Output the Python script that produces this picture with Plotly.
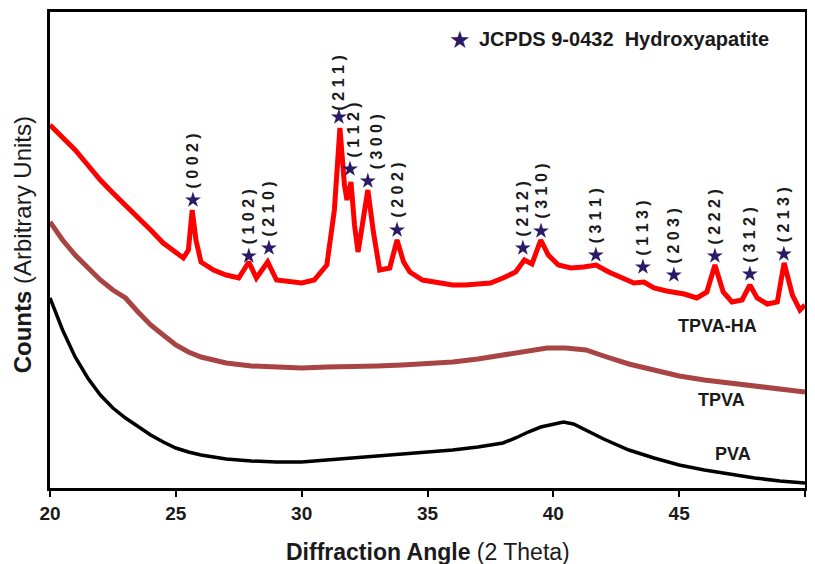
import plotly.graph_objects as go

# --- data (2 theta in degrees, counts in arbitrary units)
ha_x = [20.0, 20.5, 21.0, 21.5, 22.0, 22.5, 23.0, 23.5, 24.0, 24.5, 25.0, 25.3, 25.5, 25.65, 25.8,
        26.0, 26.5, 27.0, 27.5, 27.9, 28.2, 28.65, 29.0, 29.5, 30.0, 30.5, 31.0, 31.3, 31.52,
        31.7, 31.8, 31.96, 32.1, 32.24, 32.45, 32.63, 32.85, 33.1, 33.5, 33.79, 34.05, 34.3,
        34.8, 35.5, 36.0, 36.5, 37.0, 37.5, 38.0, 38.5, 38.85, 39.15, 39.5, 39.8, 40.2, 40.7,
        41.2, 41.7, 42.2, 42.7, 43.2, 43.6, 44.0, 44.5, 44.8, 45.2, 45.7, 46.1, 46.42, 46.75,
        47.1, 47.5, 47.81, 48.1, 48.5, 48.9, 49.17, 49.5, 49.8, 50.0]
ha_y = [363, 350, 338, 323, 308, 295, 283, 270, 258, 245, 236, 230, 238, 278, 248,
        226, 218, 213, 210, 226, 210, 226, 208, 206, 205, 208, 223, 278, 360,
        303, 288, 306, 263, 236, 273, 298, 256, 218, 220, 248, 226, 216,
        208, 205, 203, 203, 204, 205, 210, 216, 228, 224, 248, 233, 223, 220,
        221, 223, 216, 210, 205, 206, 200, 197, 196, 194, 190, 196, 223, 196,
        186, 188, 203, 190, 184, 186, 225, 193, 178, 183]

tpva_x = [20.0, 20.5, 21.0, 21.5, 22.0, 22.5, 23.0, 23.5, 24.0, 24.5, 25.0, 25.5, 26.0, 26.5,
          27.0, 28.0, 29.0, 30.0, 31.0, 32.0, 33.0, 34.0, 35.0, 36.0, 37.0, 38.0, 39.0, 39.75,
          40.5, 41.3, 42.0, 43.0, 44.0, 45.0, 46.0, 47.0, 48.0, 49.0, 50.0]
tpva_y = [266, 248, 233, 220, 208, 198, 190, 176, 163, 153, 143, 136, 131, 128,
          125, 122, 121, 120, 121, 121, 122, 123, 124, 126, 129, 133, 138, 140,
          140, 138, 132, 124, 118, 112, 108, 105, 102, 99, 96]

pva_x = [20.0, 20.25, 20.5, 21.0, 21.5, 22.0, 22.5, 23.0, 23.5, 24.0, 24.5, 25.0, 25.5, 26.0,
         27.0, 28.0, 29.0, 30.0, 31.0, 32.0, 33.0, 34.0, 35.0, 36.0, 37.0, 38.0, 38.5, 39.0,
         39.5, 40.0, 40.4, 40.8, 41.3, 42.0, 43.0, 44.0, 45.0, 46.0, 47.0, 48.0, 49.0, 50.0]
pva_y = [190, 173, 158, 131, 110, 93, 80, 70, 61, 53, 46, 40, 36, 33,
         29, 27, 26, 26, 28, 30, 32, 34, 36, 38, 41, 45, 50, 56,
         61, 64, 66, 64, 58, 49, 38, 30, 23, 18, 14, 10, 7, 5]

# HA reflections (JCPDS 9-0432): label, 2 theta of star, star height
hkl = ["(002)", "(102)", "(210)", "(211)", "(112)", "(300)", "(202)", "(212)",
       "(310)", "(311)", "(113)", "(203)", "(222)", "(312)", "(213)"]
star_x = [25.68, 27.9, 28.7, 31.48, 31.92, 32.63, 33.79, 38.79,
          39.51, 41.69, 43.56, 44.79, 46.42, 47.81, 49.16]
star_y = [288, 232, 240, 371, 319, 307, 258, 240,
          257, 233, 221, 213, 232, 214, 234]

curve_names = ["TPVA-HA", "TPVA", "PVA"]
name_x = [46.54, 46.7, 47.14]
name_y = [162, 88, 34]

star_col = "#2b1a66"
font = "Liberation Sans, Arial, sans-serif"
ink = "#1a1a1a"

fig = go.Figure()
fig.add_trace(go.Scatter(x=pva_x, y=pva_y, mode="lines", line=dict(color="black", width=3.5)))
fig.add_trace(go.Scatter(x=tpva_x, y=tpva_y, mode="lines", line=dict(color="#a94444", width=5)))
fig.add_trace(go.Scatter(x=ha_x, y=ha_y, mode="lines", line=dict(color="#ff0000", width=5)))
fig.add_trace(go.Scatter(x=star_x, y=star_y, mode="markers",
                         marker=dict(symbol="star", size=12, color=star_col)))

# rotated Miller indices above the stars
shift_x = {"(112)": 4, "(300)": 9}
shift_y = {"(211)": 5}
for lab, sx, sy in zip(hkl, star_x, star_y):
    spaced = "( " + " ".join(lab[1:-1]) + " )"
    fig.add_annotation(x=sx, y=sy, text="<b>" + spaced + "</b>", textangle=-90,
                       showarrow=False, yanchor="bottom", xanchor="center",
                       xshift=shift_x.get(lab, 0), yshift=shift_y.get(lab, 10),
                       font=dict(family=font, size=16, color=ink))

for nm, nx, ny in zip(curve_names, name_x, name_y):
    fig.add_annotation(x=nx, y=ny, text="<b>" + nm + "</b>", showarrow=False,
                       font=dict(family=font, size=18, color=ink))

# legend-like key in the top right
fig.add_annotation(xref="paper", yref="paper", x=0.543, y=0.943, text="★", showarrow=False,
                   xanchor="center", yanchor="middle", font=dict(size=24, color=star_col))
fig.add_annotation(xref="paper", yref="paper", x=0.566, y=0.943,
                   text="<b>JCPDS 9-0432  Hydroxyapatite</b>", showarrow=False,
                   xanchor="left", yanchor="middle", font=dict(family=font, size=20, color=ink))

# axis titles
fig.add_annotation(xref="paper", yref="paper", x=0.5, y=-0.134,
                   text="<b>Diffraction Angle</b> (2 Theta)", showarrow=False,
                   xanchor="center", yanchor="middle", font=dict(family=font, size=23, color=ink))
fig.add_annotation(xref="paper", yref="paper", x=-0.037, y=0.51, textangle=-90,
                   text="<b>Counts</b> (Arbitrary Units)", showarrow=False,
                   xanchor="center", yanchor="middle", font=dict(family=font, size=24, color=ink))

# page body has an 8px margin, so the figure is shrunk by that much
fig.update_layout(
    width=807, height=556, showlegend=False,
    margin=dict(l=42, r=10, t=4, b=76),
    plot_bgcolor="white", paper_bgcolor="white",
    font=dict(family=font, color=ink),
)
fig.update_xaxes(range=[20, 50], tickvals=[20, 25, 30, 35, 40, 45, 50],
                 ticktext=["<b>%d</b>" % v for v in [20, 25, 30, 35, 40, 45, 50]],
                 tickfont=dict(size=19, color=ink), ticks="outside", ticklen=6, tickwidth=2,
                 tickcolor="black", showline=True, linewidth=3, linecolor="black", mirror=True,
                 showgrid=False, zeroline=False, automargin=False)
fig.update_yaxes(range=[0, 476], showticklabels=False, ticks="", showline=True, linewidth=3,
                 linecolor="black", mirror=True, showgrid=False, zeroline=False, automargin=False)

fig.write_html("out.html")
